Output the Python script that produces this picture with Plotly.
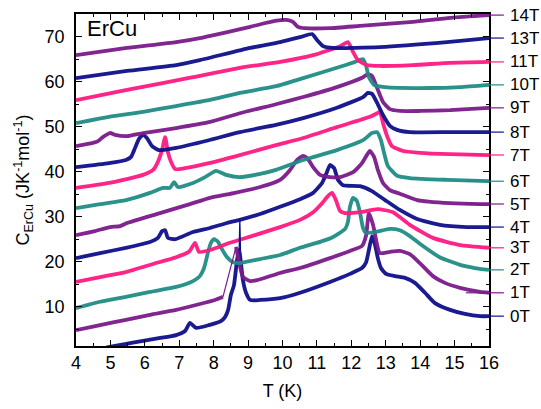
import plotly.graph_objects as go

# ---------------- data (T in K, C in J K^-1 mol^-1, curves offset as in the figure) -------------
LABELS = ["0T", "1T", "2T", "3T", "4T", "5T", "6T", "7T", "8T", "9T", "10T", "11T", "13T", "14T"]

T_0T = [4.70, 4.93, 5.57, 6.41, 6.91, 7.17, 7.31, 7.49, 7.86, 8.21, 8.33, 8.42, 8.50, 8.59, 8.68, 8.74, 8.79, 8.85, 8.94, 9.06, 9.35, 9.93, 10.51, 11.38, 11.96, 12.31, 12.43, 12.51, 12.60, 12.69, 12.77, 12.86, 13.01, 13.27, 13.56, 13.85, 14.14, 14.43, 14.87, 15.30, 15.74, 16.00]
C_0T = [0.4, 1.0, 1.9, 3.0, 3.7, 4.6, 6.4, 5.3, 5.9, 6.8, 7.7, 9.3, 12.6, 14.8, 20.4, 22.6, 19.9, 15.9, 13.1, 11.5, 11.5, 11.9, 13.1, 15.5, 17.3, 18.6, 19.9, 22.6, 25.7, 23.7, 20.8, 18.6, 17.3, 16.8, 16.4, 15.3, 13.1, 10.8, 9.3, 8.4, 7.9, 7.9]
SPIKE_0T_T = [8.74, 8.76, 8.78]
SPIKE_0T_C = [22.6, 29.7, 22.6]

T_1T = [4.00, 4.70, 5.45, 6.15, 6.91, 7.60, 8.04, 8.27, None, 8.65, 8.71, 8.85, 9.06, 9.26, 9.93, 10.51, 11.38, 11.96, 12.31, 12.43, 12.51, 12.63, 12.75, 12.83, 13.12, 13.41, 13.70, 13.99, 14.37, 14.72, 15.16, 15.74, 16.00]
C_1T = [4.8, 5.9, 7.1, 8.2, 9.3, 10.6, 11.5, 12.2, None, 23.3, 21.0, 16.6, 15.7, 15.9, 17.5, 18.6, 20.8, 22.4, 23.5, 25.9, 30.8, 28.2, 23.7, 21.9, 22.2, 22.4, 21.7, 19.7, 16.8, 15.3, 14.2, 13.3, 13.1]
JUMP_1T_T = [8.27, 8.65]
JUMP_1T_C = [12.2, 23.3]

T_2T = [4.00, 4.70, 5.45, 6.15, 6.91, 7.40, 7.60, 7.72, 7.84, 7.92, 8.01, 8.13, 8.24, 8.39, 8.56, 8.76, 9.35, 9.93, 10.51, 11.09, 11.47, 11.82, 11.90, 11.96, 12.05, 12.16, 12.25, 12.34, 12.43, 12.69, 13.12, 13.41, 13.70, 13.99, 14.57, 15.16, 15.59, 16.00]
C_2T = [9.7, 11.1, 12.2, 13.3, 14.4, 15.7, 16.8, 18.6, 22.2, 24.2, 25.0, 24.4, 22.8, 21.0, 19.9, 19.7, 20.6, 21.5, 23.1, 24.4, 25.5, 27.3, 28.8, 32.2, 34.2, 33.5, 31.0, 27.5, 26.4, 26.6, 27.3, 27.0, 25.7, 24.0, 21.0, 19.3, 18.6, 18.2]

T_3T = [4.00, 4.70, 5.45, 6.24, 6.91, 7.28, 7.46, 7.57, 7.89, 8.47, 9.20, 9.93, 10.51, 10.89, 11.15, 11.32, 11.44, 11.55, 11.67, 11.82, 12.25, 12.77, 13.21, 13.70, 14.37, 15.16, 16.00]
C_3T = [15.5, 16.6, 17.7, 19.5, 21.0, 22.2, 24.2, 22.2, 22.6, 24.2, 25.9, 27.7, 29.3, 31.0, 33.0, 34.6, 35.3, 33.7, 31.3, 30.8, 31.0, 31.7, 31.0, 28.2, 25.3, 23.7, 23.1]

T_4T = [4.00, 4.70, 5.45, 6.15, 6.38, 6.50, 6.59, 6.67, 6.88, 7.40, 7.89, 8.39, 8.76, 9.35, 9.93, 10.51, 10.89, 11.15, 11.29, 11.38, 11.50, 11.61, 11.76, 12.25, 12.60, 12.98, 13.41, 13.91, 14.57, 15.36, 16.00]
C_4T = [20.8, 21.9, 23.1, 24.4, 25.3, 26.8, 27.0, 25.3, 25.0, 26.6, 27.5, 28.6, 29.3, 30.6, 32.2, 33.9, 35.3, 37.5, 39.9, 41.5, 40.8, 38.2, 37.0, 36.8, 35.7, 33.7, 31.5, 29.5, 28.2, 27.7, 27.7]

T_5T = [4.00, 4.55, 4.99, 5.28, 5.48, 6.44, 7.31, 7.89, 8.62, 9.35, 9.93, 10.22, 10.42, 10.60, 10.74, 10.89, 11.09, 11.38, 11.67, 12.05, 12.31, 12.45, 12.54, 12.66, 12.77, 12.92, 13.12, 13.41, 13.91, 14.87, 15.74, 16.00]
C_5T = [25.9, 26.8, 27.7, 27.9, 28.6, 30.8, 32.8, 34.2, 35.3, 36.6, 38.2, 40.4, 42.6, 43.5, 42.8, 41.0, 39.3, 38.8, 38.8, 39.9, 41.9, 43.7, 44.6, 43.3, 40.4, 37.5, 35.9, 35.1, 33.7, 33.0, 32.8, 32.8]

T_6T = [4.00, 4.70, 5.45, 6.15, 6.53, 6.73, 6.85, 6.96, 7.40, 7.75, 8.07, 8.36, 8.74, 9.35, 9.81, 10.60, 11.58, 12.34, 12.60, 12.75, 12.86, 12.95, 13.06, 13.33, 13.70, 14.78, 16.00]
C_6T = [31.9, 32.8, 33.7, 35.3, 36.4, 36.4, 37.7, 36.6, 37.5, 38.8, 40.2, 39.3, 38.8, 39.5, 40.4, 42.6, 44.8, 47.0, 48.6, 48.8, 47.0, 44.2, 41.3, 39.1, 38.6, 38.2, 37.9]

T_7T = [4.00, 4.96, 5.95, 6.24, 6.38, 6.50, 6.59, 6.67, 6.76, 6.88, 7.17, 7.86, 8.76, 9.81, 10.60, 11.58, 12.54, 12.75, 12.83, 12.92, 13.04, 13.18, 13.50, 13.99, 14.87, 16.00]
C_7T = [36.4, 37.5, 39.3, 40.4, 42.2, 44.8, 47.7, 44.4, 42.2, 40.6, 40.8, 41.9, 43.7, 45.9, 47.5, 49.9, 52.2, 53.0, 53.3, 50.8, 47.9, 45.7, 44.6, 44.2, 43.9, 43.7]

T_8T = [4.00, 4.96, 5.45, 5.60, 5.69, 5.83, 5.95, 6.06, 6.21, 6.41, 6.91, 7.86, 8.76, 9.81, 10.60, 11.58, 12.34, 12.48, 12.60, 12.75, 12.92, 13.12, 13.33, 13.70, 14.87, 16.00]
C_8T = [41.0, 41.9, 42.6, 43.3, 44.8, 47.3, 48.2, 47.5, 45.7, 44.8, 45.3, 47.0, 48.8, 50.4, 51.9, 54.2, 56.6, 57.5, 57.3, 55.3, 52.6, 50.2, 49.3, 48.8, 48.8, 48.8]

T_9T = [4.00, 4.49, 4.64, 4.78, 4.99, 5.13, 5.48, 5.95, 6.91, 7.86, 8.76, 9.81, 10.60, 11.58, 12.34, 12.48, 12.60, 12.75, 12.92, 13.12, 13.41, 13.99, 14.87, 16.00]
C_9T = [45.7, 46.4, 46.8, 47.7, 48.6, 48.2, 47.9, 48.6, 49.7, 51.0, 53.0, 55.0, 56.6, 58.8, 61.0, 61.7, 61.3, 58.6, 55.5, 53.9, 53.5, 53.5, 53.7, 54.2]

T_10T = [4.00, 4.96, 5.95, 6.91, 7.86, 8.76, 9.81, 10.60, 11.58, 12.11, 12.34, 12.43, 12.51, 12.66, 12.98, 14.28, 15.16, 16.00]
C_10T = [50.8, 52.2, 53.3, 54.6, 55.9, 57.5, 59.0, 60.8, 63.1, 64.4, 65.0, 63.5, 61.0, 59.3, 58.8, 58.6, 58.8, 59.3]

T_11T = [4.00, 5.48, 7.40, 8.76, 9.93, 10.89, 11.67, 11.90, 12.05, 12.19, 12.45, 12.83, 13.79, 14.87, 16.00]
C_11T = [55.9, 58.2, 61.0, 63.1, 64.4, 65.9, 67.9, 68.8, 66.6, 64.8, 63.7, 63.5, 63.7, 64.2, 64.4]

T_13T = [4.00, 5.48, 6.91, 7.60, 9.06, 9.93, 10.51, 10.86, 11.00, 11.18, 11.47, 12.83, 14.78, 16.00]
C_13T = [60.8, 62.4, 63.7, 64.8, 67.5, 68.8, 69.9, 70.6, 69.3, 67.9, 67.5, 67.7, 68.8, 69.7]

T_14T = [4.00, 5.48, 6.91, 7.60, 9.06, 9.78, 10.16, 10.30, 10.45, 10.65, 11.38, 12.25, 13.79, 14.87, 16.00]
C_14T = [65.9, 67.5, 68.8, 69.7, 72.2, 73.5, 73.7, 73.3, 72.2, 71.9, 71.9, 72.4, 73.3, 74.2, 74.8]

X_TICKS = [4, 5, 6, 7, 8, 9, 10, 11, 12, 13, 14, 15, 16]
Y_TICKS = [10, 20, 30, 40, 50, 60, 70]

# ---------------- styling -------------
NAVY = "#0f0f8c"
PURPLE = "#7b1a8b"
TEAL = "#1f8c85"
PINK = "#ff1a82"
COLORS = [NAVY, PURPLE, TEAL, PINK] * 3 + [NAVY, PURPLE]
LONG_LEAD = {"1T", "5T", "6T", "7T"}

SERIES = [(T_0T, C_0T), (T_1T, C_1T), (T_2T, C_2T), (T_3T, C_3T), (T_4T, C_4T),
          (T_5T, C_5T), (T_6T, C_6T), (T_7T, C_7T), (T_8T, C_8T), (T_9T, C_9T),
          (T_10T, C_10T), (T_11T, C_11T), (T_13T, C_13T), (T_14T, C_14T)]

FONT = "Liberation Sans, Arial, sans-serif"
fig = go.Figure()

for (t, c), col in zip(SERIES, COLORS):
    fig.add_trace(go.Scatter(x=t, y=c, mode="lines", connectgaps=False,
                             line=dict(color=col, width=3.8, shape="spline", smoothing=0.5),
                             opacity=0.95, showlegend=False, hoverinfo="skip"))

fig.add_trace(go.Scatter(x=SPIKE_0T_T, y=SPIKE_0T_C, mode="lines",
                         line=dict(color=NAVY, width=1.2), showlegend=False, hoverinfo="skip"))
fig.add_trace(go.Scatter(x=JUMP_1T_T, y=JUMP_1T_C, mode="lines",
                         line=dict(color=PURPLE, width=1.2), showlegend=False, hoverinfo="skip"))

shapes = []
annotations = []
for (t, c), col, lab in zip(SERIES, COLORS, LABELS):
    yv = c[-1]
    x0 = 0.944 if lab in LONG_LEAD else 1.0
    shapes.append(dict(type="line", xref="paper", yref="y", x0=x0, x1=1.036, y0=yv, y1=yv,
                       line=dict(color=col, width=1.5), opacity=0.8))
    annotations.append(dict(text=lab, xref="paper", yref="y", x=1.046, y=yv,
                            xanchor="left", yanchor="middle", showarrow=False,
                            font=dict(family=FONT, size=17, color="black")))

annotations.append(dict(text="ErCu", xref="paper", yref="paper", x=0.022, y=0.955,
                        xanchor="left", yanchor="middle", showarrow=False,
                        font=dict(family=FONT, size=22, color="black")))

axis_common = dict(showline=True, linecolor="black", linewidth=1.5, mirror="ticks",
                   ticks="inside", ticklen=6, tickwidth=1.2, tickcolor="black",
                   showgrid=False, zeroline=False,
                   tickfont=dict(family=FONT, size=18, color="black"))

fig.update_layout(
    width=541, height=409,
    margin=dict(l=76, r=52, t=14, b=63),
    paper_bgcolor="white", plot_bgcolor="white",
    shapes=shapes, annotations=annotations,
    xaxis=dict(range=[4, 16], tickvals=X_TICKS,
               minor=dict(dtick=0.5, ticks="inside", ticklen=3, tickcolor="black"),
               title=dict(text="T (K)", font=dict(family=FONT, size=18, color="black"), standoff=12),
               **axis_common),
    yaxis=dict(range=[1.27, 75.05], tickvals=Y_TICKS, ticklabelstandoff=6,
               minor=dict(dtick=5, ticks="inside", ticklen=3, tickcolor="black"),
               title=dict(text="C<sub>ErCu</sub> (JK<sup>-1</sup>mol<sup>-1</sup>)",
                          font=dict(family=FONT, size=18, color="black"), standoff=10),
               **axis_common),
)

# remove the default page margin so the 541x409 figure fills the window exactly
fig.write_html("out.html", config={"displayModeBar": False},
               post_script="document.body.style.margin='0';document.body.style.overflow='hidden';")
